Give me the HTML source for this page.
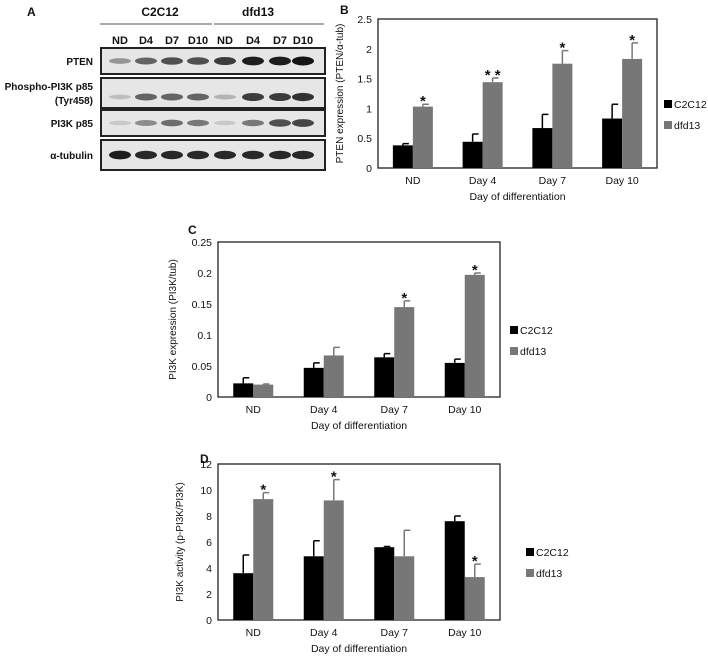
<!DOCTYPE html>
<html><head><meta charset="utf-8"><style>
body{margin:0;background:#fff;width:708px;height:657px;overflow:hidden}
svg{font-family:"Liberation Sans",sans-serif;}
text{fill:#111}
</style></head><body>
<svg id="fig" width="708" height="657" viewBox="0 0 708 657">
<g id="panelA">
<text x="27" y="16" font-size="12" font-weight="bold">A</text>
<text x="160" y="16" font-size="12" font-weight="bold" text-anchor="middle">C2C12</text>
<text x="258" y="16" font-size="12" font-weight="bold" text-anchor="middle">dfd13</text>
<line x1="100" y1="24" x2="212" y2="24" stroke="#555"/>
<line x1="214" y1="24" x2="324" y2="24" stroke="#555"/>
<g id="lanes" font-size="11" font-weight="bold" text-anchor="middle"></g>
<g id="blots"></g>
</g>
<g id="chartB"></g><g id="chartC"></g><g id="chartD"></g>
</svg>
<script>
const categories=["ND","Day 4","Day 7","Day 10"];
const series=["C2C12","dfd13"];
const bC2C12=[0.38,0.44,0.67,0.83];const bC2C12Err=[0.03,0.13,0.23,0.24];
const bDfd13=[1.03,1.44,1.75,1.83];const bDfd13Err=[0.04,0.07,0.22,0.27];
const bStars=["*","**","*","*"];
const bTicks=["0","0.5","1","1.5","2","2.5"];
const cC2C12=[0.022,0.047,0.064,0.055];const cC2C12Err=[0.009,0.008,0.006,0.006];
const cDfd13=[0.02,0.067,0.145,0.197];const cDfd13Err=[0.001,0.013,0.01,0.003];
const cStars=["","","*","*"];
const cTicks=["0","0.05","0.1","0.15","0.2","0.25"];
const dC2C12=[3.6,4.9,5.6,7.6];const dC2C12Err=[1.4,1.2,0.05,0.4];
const dDfd13=[9.3,9.2,4.9,3.3];const dDfd13Err=[0.5,1.6,2.0,1.0];
const dStars=["*","*","","*"];
const dTicks=["0","2","4","6","8","10","12"];
const laneLabels=["ND","D4","D7","D10","ND","D4","D7","D10"];
const blotNames=["PTEN","Phospho-PI3K p85|(Tyr458)","PI3K p85","α-tubulin"];
const blotIntensity=[[0.35,0.6,0.7,0.7,0.8,0.95,0.95,1],[0.15,0.6,0.6,0.6,0.2,0.8,0.8,0.85],[0.1,0.4,0.55,0.5,0.1,0.5,0.7,0.75],[0.95,0.9,0.9,0.9,0.9,0.9,0.9,0.9]];
const NS="http://www.w3.org/2000/svg";
function mk(p,t,a){const e=document.createElementNS(NS,t);for(const k in a)e.setAttribute(k,a[k]);p.appendChild(e);return e;}
const laneX=[120,146,172,198,225,253,280,303];
const lg=document.getElementById('lanes');
laneLabels.forEach((l,i)=>{const t=mk(lg,'text',{x:laneX[i],y:44});t.textContent=l;

});
const bg=document.getElementById('blots');
const boxes=[[48,74],[78,108],[110,136],[140,170]];
blotNames.forEach((n,r)=>{
 const [y0,y1]=boxes[r];
 const b=mk(bg,'rect',{x:101,y:y0,width:224,height:y1-y0,fill:'#e6e6e6',stroke:'#222','stroke-width':2});
 
 
 const parts=n.split('|');
 parts.forEach((p,k)=>{const t=mk(bg,'text',{x:93,y:(y0+y1)/2+4+(k-(parts.length-1)/2)*14,'font-size':10,'font-weight':'bold','text-anchor':'end'});t.textContent=p;
 
 });
 blotIntensity[r].forEach((v,i)=>{const g=Math.round(220-200*v);
  const e=mk(bg,'ellipse',{cx:laneX[i],cy:(y0+y1)/2+(r==1?4:0),rx:11,ry:2+2.5*v,fill:`rgb(${g},${g},${g})`});
  
  });
});
function chart(id,cfg){
 const g=document.getElementById(id);
 
 
 const {L,R,T,B,max}=cfg;
 const y=v=>B-(v/max)*(B-T);
 const cw=(R-L)/categories.length;
 const x=i=>L+cw*(i+0.5);
 const f=mk(g,'rect',{x:L,y:T,width:R-L,height:B-T,fill:'none',stroke:'#222','stroke-width':1.3});
 
 
 cfg.ticks.forEach(t=>{const e=mk(g,'text',{x:L-6,y:y(parseFloat(t))+4,'font-size':10.5,'text-anchor':'end'});e.textContent=t;
  
  });
 const sets=[[cfg.a,cfg.ae,'#000'],[cfg.b,cfg.be,'#777']];
 categories.forEach((c,i)=>{
  sets.forEach(([v,er,col],s)=>{
   const bx=x(i)-20+s*20;
   const r=mk(g,'rect',{x:bx,y:y(v[i]),width:20,height:B-y(v[i]),fill:col});
   
   
   const cx=bx+10, ty=y(v[i]+er[i]);
   const l=mk(g,'path',{d:`M${cx} ${y(v[i])}V${ty}M${cx} ${ty}H${cx+6}`,stroke:col,'stroke-width':1.5,fill:'none'});
   
   
  });
  if(cfg.stars[i]){const top=y(cfg.b[i]+cfg.be[i]);
   const st=mk(g,'text',{x:x(i)+10,y:top+2,'font-size':15,'font-weight':'bold','text-anchor':'middle'});st.textContent=cfg.stars[i].split('').join(' ');
   
   }
  const t=mk(g,'text',{x:x(i),y:B+16,'font-size':10.5,'text-anchor':'middle'});t.textContent=c;
  
  
 });
 const xt=mk(g,'text',{x:(L+R)/2,y:B+32,'font-size':10.5,'text-anchor':'middle'});xt.textContent='Day of differentiation';
 
 
 const yt=mk(g,'text',{x:0,y:0,'font-size':10,'text-anchor':'middle',transform:`translate(${cfg.ytx},${(T+B)/2}) rotate(-90)`});yt.textContent=cfg.ytitle;
 
 
 series.forEach((s,k)=>{const ly=cfg.legY+k*21;
  const q=mk(g,'rect',{x:cfg.legX,y:ly-8,width:8,height:8,fill:k?'#777':'#000'});
  
  
  const t=mk(g,'text',{x:cfg.legX+10,y:ly,'font-size':10.5});t.textContent=s;
  
  });
 const pl=mk(g,'text',{x:cfg.plx,y:cfg.ply,'font-size':12,'font-weight':'bold'});pl.textContent=cfg.label;
 
 
}
chart('chartB',{name:'pten-chart',L:378,R:657,T:19,B:168,max:2.5,a:bC2C12,ae:bC2C12Err,b:bDfd13,be:bDfd13Err,stars:bStars,ticks:bTicks,ytitle:'PTEN expression (PTEN/α-tub)',ytx:343,legX:664,legY:108,label:'B',plx:340,ply:14});
chart('chartC',{name:'pi3k-expression-chart',L:218,R:500,T:242,B:397,max:0.25,a:cC2C12,ae:cC2C12Err,b:cDfd13,be:cDfd13Err,stars:cStars,ticks:cTicks,ytitle:'PI3K expression (PI3K/tub)',ytx:176,legX:510,legY:334,label:'C',plx:188,ply:234});
chart('chartD',{name:'pi3k-activity-chart',L:218,R:500,T:464,B:620,max:12,a:dC2C12,ae:dC2C12Err,b:dDfd13,be:dDfd13Err,stars:dStars,ticks:dTicks,ytitle:'PI3K activity (p-PI3K/PI3K)',ytx:183,legX:526,legY:556,label:'D',plx:200,ply:463});
</script>
</body></html>
